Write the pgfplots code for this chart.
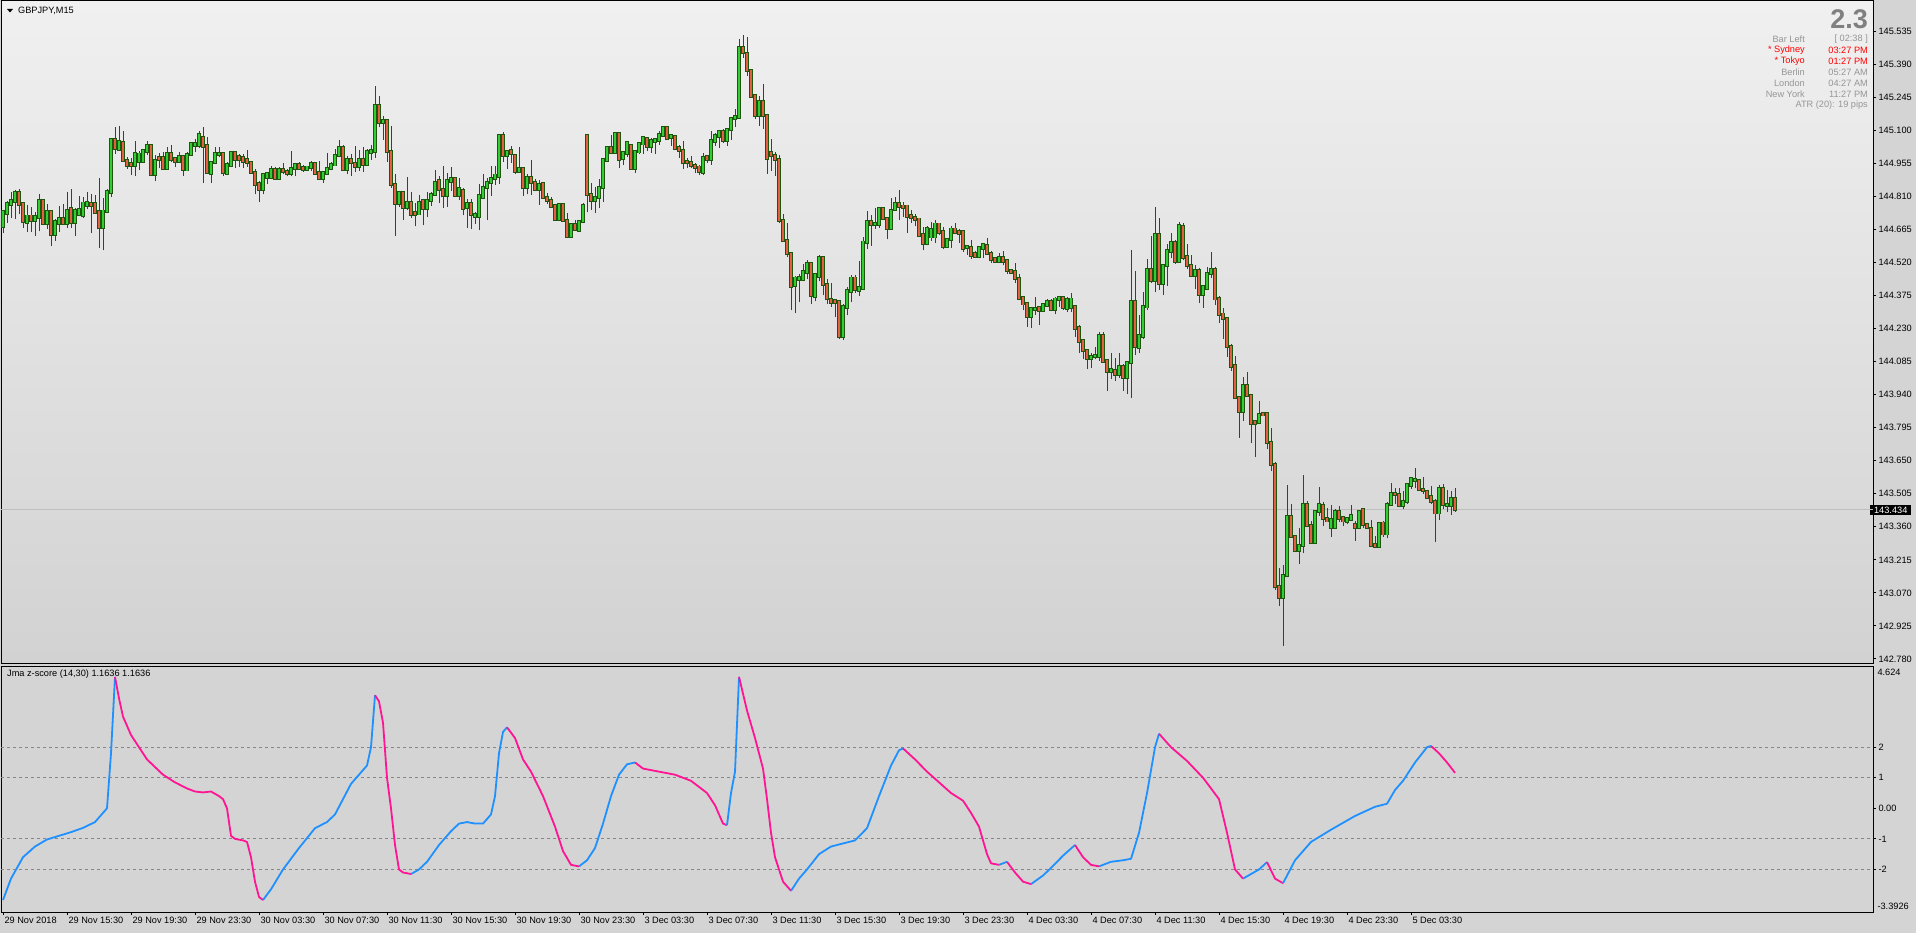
\documentclass[border=0pt]{standalone}
\usepackage{fontspec}
\setmainfont{Liberation Sans}
\usepackage{pgfplots}
\usepackage{pgfplotstable}
\pgfplotsset{compat=1.18}
\definecolor{outerbg}{RGB}{212,212,212}
\definecolor{bgtop}{RGB}{240,240,240}
\definecolor{bgbot}{RGB}{210,210,210}
\definecolor{wickc}{RGB}{30,86,16}
\definecolor{upc}{RGB}{50,205,50}
\definecolor{dnc}{RGB}{228,96,66}
\definecolor{zblue}{RGB}{30,144,255}
\definecolor{zpink}{RGB}{255,20,147}
\definecolor{gridc}{RGB}{135,135,135}
\definecolor{infog}{RGB}{150,150,150}
\definecolor{bigg}{RGB}{128,128,128}
\definecolor{infor}{RGB}{255,0,0}
\newcommand{\fs}{\fontsize{9.2bp}{11bp}\selectfont}
\pgfplotstableread{
i o h l c
0 144.678 144.751 144.649 144.743
1 144.736 144.790 144.695 144.776
2 144.776 144.827 144.714 144.790
3 144.787 144.838 144.710 144.828
4 144.828 144.841 144.732 144.776
5 144.776 144.787 144.673 144.700
6 144.697 144.773 144.653 144.723
7 144.723 144.764 144.652 144.704
8 144.705 144.743 144.638 144.720
9 144.719 144.821 144.656 144.789
10 144.789 144.795 144.688 144.692
11 144.691 144.777 144.667 144.742
12 144.742 144.751 144.594 144.644
13 144.644 144.711 144.616 144.698
14 144.691 144.768 144.653 144.714
15 144.714 144.777 144.685 144.691
16 144.692 144.831 144.670 144.749
17 144.754 144.843 144.670 144.697
18 144.697 144.758 144.634 144.746
19 144.730 144.813 144.722 144.751
20 144.727 144.806 144.714 144.780
21 144.771 144.830 144.754 144.781
22 144.777 144.821 144.647 144.771
23 144.777 144.816 144.735 144.739
24 144.742 144.891 144.583 144.675
25 144.675 144.802 144.573 144.745
26 144.745 144.843 144.743 144.830
27 144.828 145.060 144.805 145.060
28 145.060 145.116 144.997 145.021
29 145.016 145.119 145.016 145.049
30 145.047 145.098 144.965 144.968
31 144.968 144.984 144.930 144.946
32 144.952 144.980 144.905 144.945
33 144.946 145.053 144.901 144.996
34 144.962 145.008 144.927 144.995
35 144.965 145.018 144.957 145.011
36 145.008 145.053 144.992 145.031
37 145.031 145.035 144.904 144.907
38 144.907 144.990 144.875 144.968
39 144.978 145.000 144.936 144.971
40 144.978 145.006 144.927 144.932
41 144.932 145.027 144.926 144.999
42 144.999 145.035 144.959 144.970
43 144.974 144.981 144.939 144.962
44 144.964 145.006 144.957 144.986
45 144.986 144.992 144.901 144.929
46 144.926 145.003 144.923 144.995
47 144.995 145.050 144.989 145.043
48 145.033 145.060 145.005 145.043
49 145.033 145.097 145.021 145.082
50 145.066 145.114 144.870 145.030
51 145.034 145.069 144.911 144.914
52 144.911 144.967 144.870 144.959
53 144.959 145.027 144.951 144.996
54 144.992 145.025 144.981 144.999
55 144.999 145.002 144.897 144.914
56 144.910 144.959 144.910 144.948
57 144.945 145.008 144.939 145.003
58 145.003 145.006 144.936 144.973
59 144.983 144.997 144.938 144.973
60 144.981 144.996 144.936 144.965
61 144.970 145.013 144.939 144.958
62 144.956 144.959 144.908 144.914
63 144.916 144.929 144.818 144.863
64 144.865 144.876 144.787 144.841
65 144.841 144.910 144.819 144.907
66 144.894 144.913 144.863 144.908
67 144.894 144.945 144.886 144.929
68 144.929 144.938 144.888 144.889
69 144.888 144.938 144.888 144.929
70 144.929 144.957 144.910 144.920
71 144.920 144.930 144.897 144.910
72 144.910 145.009 144.897 144.933
73 144.932 144.958 144.897 144.951
74 144.951 144.962 144.927 144.932
75 144.935 144.948 144.916 144.927
76 144.927 144.943 144.927 144.938
77 144.938 144.964 144.922 144.955
78 144.952 144.958 144.903 144.910
79 144.913 144.964 144.886 144.889
80 144.889 144.920 144.869 144.913
81 144.910 144.999 144.910 144.933
82 144.932 144.959 144.924 144.948
83 144.948 145.018 144.948 144.990
84 144.990 145.056 144.983 145.022
85 145.025 145.034 144.926 144.927
86 144.927 144.989 144.908 144.973
87 144.973 144.996 144.897 144.959
88 144.955 145.031 144.916 144.941
89 144.941 145.015 144.923 144.973
90 144.973 145.027 144.916 144.951
91 144.951 145.018 144.948 145.005
92 145.003 145.035 144.971 145.009
93 145.006 145.294 144.980 145.206
94 145.206 145.250 145.116 145.133
95 145.133 145.162 145.057 145.143
96 145.143 145.145 144.962 145.008
97 145.008 145.119 144.846 144.863
98 144.863 144.908 144.638 144.780
99 144.780 144.828 144.765 144.828
100 144.828 144.828 144.707 144.762
101 144.762 144.894 144.748 144.784
102 144.784 144.828 144.717 144.730
103 144.737 144.780 144.678 144.730
104 144.733 144.816 144.732 144.784
105 144.789 144.790 144.682 144.757
106 144.757 144.828 144.719 144.793
107 144.792 144.831 144.768 144.819
108 144.818 144.926 144.813 144.872
109 144.878 144.897 144.780 144.841
110 144.841 144.943 144.757 144.815
111 144.813 144.911 144.765 144.878
112 144.875 144.938 144.834 144.886
113 144.886 144.889 144.806 144.813
114 144.813 144.889 144.796 144.843
115 144.837 144.846 144.726 144.758
116 144.761 144.797 144.671 144.777
117 144.777 144.799 144.666 144.730
118 144.721 144.740 144.688 144.729
119 144.723 144.865 144.660 144.812
120 144.806 144.908 144.803 144.850
121 144.849 144.889 144.707 144.872
122 144.870 144.943 144.812 144.889
123 144.888 144.942 144.860 144.903
124 144.897 145.075 144.863 145.075
125 145.075 145.091 144.962 144.990
126 144.990 145.009 144.929 145.008
127 145.009 145.031 144.958 144.997
128 144.990 144.992 144.908 144.920
129 144.919 145.027 144.914 144.933
130 144.933 144.938 144.813 144.849
131 144.849 144.908 144.819 144.891
132 144.891 144.970 144.816 144.870
133 144.872 144.884 144.834 144.841
134 144.841 144.881 144.773 144.863
135 144.865 144.872 144.802 144.806
136 144.806 144.824 144.777 144.793
137 144.793 144.805 144.761 144.765
138 144.768 144.768 144.710 144.710
139 144.708 144.776 144.708 144.773
140 144.773 144.776 144.700 144.705
141 144.705 144.736 144.627 144.634
142 144.634 144.689 144.632 144.684
143 144.685 144.704 144.659 144.666
144 144.662 144.707 144.660 144.701
145 144.701 144.781 144.691 144.771
146 145.078 145.085 144.739 144.819
147 144.819 144.868 144.751 144.792
148 144.792 144.850 144.735 144.803
149 144.806 144.886 144.758 144.850
150 144.850 144.977 144.787 144.970
151 144.967 145.027 144.959 145.022
152 145.022 145.081 144.999 145.002
153 145.002 145.084 144.999 145.084
154 145.084 145.084 144.936 144.974
155 144.976 145.006 144.948 145.000
156 145.000 145.050 144.981 145.046
157 145.034 145.034 144.930 144.932
158 144.932 145.005 144.914 145.005
159 145.005 145.050 144.997 145.040
160 145.040 145.072 144.997 145.069
161 145.065 145.069 145.008 145.030
162 145.030 145.065 144.999 145.053
163 145.050 145.065 144.997 145.057
164 145.056 145.097 145.036 145.079
165 145.078 145.119 145.076 145.110
166 145.110 145.119 145.062 145.065
167 145.069 145.084 145.032 145.075
168 145.073 145.073 145.018 145.021
169 145.022 145.036 144.977 145.012
170 145.012 145.053 144.929 144.959
171 144.962 144.980 144.933 144.959
172 144.959 144.987 144.933 144.946
173 144.946 144.958 144.911 144.938
174 144.938 144.948 144.905 144.920
175 144.914 145.000 144.903 144.981
176 144.983 144.990 144.957 144.971
177 144.973 145.097 144.948 145.053
178 145.053 145.087 145.032 145.075
179 145.073 145.103 145.024 145.095
180 145.095 145.105 145.043 145.057
181 145.056 145.108 145.032 145.104
182 145.104 145.157 145.059 145.152
183 145.151 145.192 145.114 145.158
184 145.157 145.500 145.157 145.463
185 145.463 145.517 145.418 145.440
186 145.437 145.507 145.338 145.361
187 145.362 145.362 145.247 145.249
188 145.250 145.259 145.151 145.164
189 145.164 145.250 145.120 145.227
190 145.227 145.301 145.107 145.165
191 145.165 145.167 144.910 144.977
192 145.003 145.062 144.922 144.990
193 144.990 145.005 144.901 144.973
194 144.973 144.992 144.691 144.704
195 144.704 144.733 144.612 144.616
196 144.616 144.694 144.542 144.559
197 144.559 144.561 144.310 144.415
198 144.419 144.462 144.297 144.451
199 144.446 144.467 144.345 144.453
200 144.446 144.514 144.437 144.478
201 144.478 144.532 144.448 144.513
202 144.513 144.516 144.336 144.375
203 144.371 144.473 144.349 144.466
204 144.459 144.554 144.437 144.543
205 144.543 144.549 144.376 144.424
206 144.424 144.448 144.338 144.362
207 144.355 144.431 144.326 144.345
208 144.351 144.357 144.279 144.345
209 144.346 144.351 144.183 144.196
210 144.196 144.337 144.180 144.324
211 144.323 144.413 144.288 144.395
212 144.393 144.463 144.345 144.451
213 144.451 144.463 144.386 144.403
214 144.397 144.527 144.371 144.408
215 144.406 144.632 144.397 144.609
216 144.609 144.746 144.581 144.697
217 144.697 144.727 144.592 144.688
218 144.685 144.759 144.668 144.689
219 144.688 144.758 144.673 144.755
220 144.755 144.764 144.710 144.713
221 144.714 144.714 144.621 144.668
222 144.671 144.803 144.669 144.749
223 144.754 144.805 144.749 144.780
224 144.780 144.838 144.708 144.767
225 144.767 144.786 144.719 144.761
226 144.767 144.768 144.651 144.721
227 144.724 144.751 144.694 144.717
228 144.717 144.732 144.678 144.710
229 144.710 144.717 144.631 144.638
230 144.640 144.676 144.573 144.603
231 144.603 144.681 144.595 144.668
232 144.632 144.698 144.616 144.665
233 144.632 144.707 144.606 144.688
234 144.688 144.688 144.641 144.651
235 144.653 144.676 144.577 144.590
236 144.590 144.622 144.587 144.622
237 144.622 144.681 144.583 144.666
238 144.666 144.692 144.644 144.653
239 144.654 144.666 144.605 144.646
240 144.653 144.654 144.567 144.583
241 144.584 144.597 144.554 144.590
242 144.584 144.618 144.535 144.552
243 144.557 144.571 144.542 144.548
244 144.546 144.590 144.538 144.584
245 144.583 144.600 144.539 144.596
246 144.593 144.627 144.554 144.559
247 144.559 144.570 144.519 144.535
248 144.535 144.542 144.521 144.526
249 144.526 144.561 144.519 144.540
250 144.540 144.568 144.507 144.526
251 144.526 144.529 144.470 144.485
252 144.486 144.491 144.467 144.476
253 144.478 144.516 144.428 144.448
254 144.448 144.470 144.355 144.364
255 144.364 144.374 144.311 144.338
256 144.338 144.346 144.238 144.282
257 144.282 144.320 144.232 144.316
258 144.313 144.367 144.289 144.319
259 144.320 144.329 144.244 144.311
260 144.311 144.339 144.310 144.333
261 144.333 144.359 144.327 144.346
262 144.346 144.358 144.308 144.313
263 144.313 144.370 144.292 144.359
264 144.359 144.373 144.326 144.364
265 144.364 144.371 144.310 144.323
266 144.319 144.367 144.304 144.357
267 144.323 144.384 144.301 144.359
268 144.324 144.326 144.193 144.232
269 144.232 144.244 144.123 144.174
270 144.175 144.177 144.095 144.135
271 144.132 144.138 144.053 144.097
272 144.097 144.121 144.056 144.108
273 144.107 144.149 144.094 144.111
274 144.107 144.216 144.089 144.199
275 144.199 144.216 144.083 144.086
276 144.087 144.087 143.956 144.040
277 144.040 144.121 144.007 144.049
278 144.045 144.102 144.000 144.027
279 144.027 144.121 144.013 144.062
280 144.062 144.074 143.956 144.017
281 144.017 144.087 143.943 144.081
282 144.080 144.575 143.925 144.347
283 144.347 144.484 144.113 144.150
284 144.146 144.290 144.124 144.198
285 144.197 144.392 144.186 144.325
286 144.325 144.535 144.312 144.487
287 144.487 144.637 144.430 144.443
288 144.443 144.765 144.389 144.640
289 144.640 144.716 144.401 144.430
290 144.430 144.515 144.376 144.505
291 144.505 144.602 144.416 144.570
292 144.570 144.649 144.538 144.607
293 144.607 144.617 144.515 144.525
294 144.525 144.699 144.521 144.680
295 144.675 144.694 144.529 144.543
296 144.544 144.602 144.491 144.505
297 144.505 144.553 144.456 144.465
298 144.465 144.509 144.404 144.483
299 144.483 144.494 144.341 144.378
300 144.378 144.418 144.321 144.413
301 144.407 144.499 144.401 144.470
302 144.470 144.567 144.452 144.487
303 144.487 144.500 144.332 144.360
304 144.360 144.372 144.255 144.293
305 144.293 144.318 144.183 144.273
306 144.273 144.277 144.105 144.150
307 144.150 144.162 144.043 144.065
308 144.067 144.110 143.927 143.927
309 143.927 143.927 143.750 143.865
310 143.865 144.018 143.823 143.978
311 143.978 144.037 143.932 143.935
312 143.935 143.935 143.727 143.813
313 143.821 143.824 143.667 143.813
314 143.817 143.910 143.817 143.852
315 143.856 143.861 143.846 143.851
316 143.856 143.856 143.700 143.729
317 143.729 143.794 143.605 143.633
318 143.633 143.645 143.083 143.099
319 143.099 143.179 143.014 143.050
320 143.049 143.192 142.839 143.145
321 143.145 143.543 143.138 143.405
322 143.405 143.459 143.312 143.316
323 143.316 143.321 143.248 143.255
324 143.255 143.356 143.198 143.278
325 143.278 143.586 143.245 143.458
326 143.458 143.472 143.365 143.365
327 143.366 143.385 143.288 143.291
328 143.291 143.432 143.291 143.427
329 143.426 143.534 143.408 143.458
330 143.452 143.470 143.365 143.397
331 143.397 143.442 143.379 143.386
332 143.357 143.455 143.316 143.392
333 143.357 143.437 143.350 143.427
334 143.427 143.450 143.379 143.399
335 143.401 143.408 143.365 143.386
336 143.383 143.401 143.372 143.394
337 143.391 143.455 143.386 143.410
338 143.371 143.386 143.299 143.356
339 143.356 143.433 143.353 143.427
340 143.434 143.437 143.353 143.371
341 143.371 143.372 143.353 143.356
342 143.351 143.391 143.277 143.277
343 143.281 143.321 143.274 143.275
344 143.275 143.383 143.269 143.375
345 143.376 143.386 143.316 143.329
346 143.329 143.467 143.309 143.458
347 143.458 143.554 143.452 143.506
348 143.506 143.529 143.459 143.502
349 143.502 143.529 143.449 143.453
350 143.452 143.515 143.437 143.471
351 143.471 143.548 143.459 143.543
352 143.541 143.580 143.526 143.572
353 143.563 143.616 143.529 143.567
354 143.563 143.566 143.519 143.524
355 143.525 143.578 143.506 143.518
356 143.515 143.522 143.486 143.489
357 143.493 143.537 143.462 143.471
358 143.472 143.481 143.294 143.421
359 143.421 143.545 143.389 143.528
360 143.528 143.547 143.436 143.458
361 143.456 143.521 143.423 143.459
362 143.456 143.515 143.411 143.483
363 143.484 143.532 143.427 143.436
}\candles
\pgfplotsset{
  zb/.style={zblue, line width=1.8bp, line join=round, forget plot, mark=none},
  zp/.style={zpink, line width=1.8bp, line join=round, forget plot, mark=none},
  nomark/.style={only marks, mark=*, mark size=0.1bp, mark options={opacity=0, draw opacity=0, fill opacity=0}, forget plot},
}
\begin{document}
\begin{tikzpicture}
\useasboundingbox (0,0) rectangle (1916bp,933bp);
\fill[outerbg] (0,0) rectangle (1916bp,933bp);
\begin{axis}[
  at={(1bp,269bp)}, anchor=south west, scale only axis,
  width=1872bp, height=663bp,
  xmin=-0.5, xmax=467.5, ymin=142.758, ymax=145.667,
  axis background/.style={top color=bgtop, bottom color=bgbot},
  axis line style={black, line width=1bp},
  xtick=\empty,
  ytick={142.78,142.925,143.07,143.215,143.36,143.505,143.65,143.795,143.94,144.085,144.23,144.375,144.52,144.665,144.81,144.955,145.1,145.245,145.39,145.535},
  yticklabels={142.780,142.925,143.070,143.215,143.360,143.505,143.650,143.795,143.940,144.085,144.230,144.375,144.520,144.665,144.810,144.955,145.100,145.245,145.390,145.535},
  ytick pos=right, yticklabel pos=right, tick align=outside,
  major tick length=3bp, tick style={black, line width=1bp},
  yticklabel style={font=\fs, xshift=-1bp},
  extra y ticks={143.434}, extra y tick labels={143.434},
  extra y tick style={major tick length=0bp, yticklabel style={fill=black, text=white, inner ysep=1.5bp, minimum width=41bp, xshift=-2bp}},
]
\addplot[color={rgb,255:red,190;green,190;blue,190}, line width=1bp, forget plot] coordinates {(-0.5,143.434) (467.5,143.434)};
% wicks
\addplot[wickc, nomark, error bars/.cd, y dir=plus, y explicit, error mark=none, error bar style={line width=1bp, wickc}]
  table[x=i, y=l, y error plus expr={\thisrow{h}-\thisrow{l}}] {\candles};
% body outlines
\addplot[wickc, nomark, error bars/.cd, y dir=plus, y explicit, error mark=none, error bar style={line width=3.2bp, line cap=rect, wickc}]
  table[x=i, y expr={min(\thisrow{o},\thisrow{c})}, y error plus expr={abs(\thisrow{c}-\thisrow{o})}] {\candles};
% up bodies
\addplot[upc, nomark, unbounded coords=discard, error bars/.cd, y dir=plus, y explicit, error mark=none, error bar style={line width=1.3bp, line cap=rect, upc}]
  table[x=i, y expr={\thisrow{c}>=\thisrow{o} ? \thisrow{o} : nan}, y error plus expr={abs(\thisrow{c}-\thisrow{o})}] {\candles};
% down bodies
\addplot[dnc, nomark, unbounded coords=discard, error bars/.cd, y dir=plus, y explicit, error mark=none, error bar style={line width=1.3bp, line cap=rect, dnc}]
  table[x=i, y expr={\thisrow{c}<\thisrow{o} ? \thisrow{c} : nan}, y error plus expr={abs(\thisrow{c}-\thisrow{o})}] {\candles};
\end{axis}
\begin{axis}[
  at={(1bp,21bp)}, anchor=south west, scale only axis,
  width=1872bp, height=245bp,
  xmin=-0.5, xmax=467.5, ymin=-3.3926, ymax=4.624,
  axis background/.style={fill=outerbg},
  axis line style={black, line width=1bp},
  xtick={0,16,...,352},
  xticklabels={29 Nov 2018,29 Nov 15:30,29 Nov 19:30,29 Nov 23:30,30 Nov 03:30,30 Nov 07:30,30 Nov 11:30,30 Nov 15:30,30 Nov 19:30,30 Nov 23:30,3 Dec 03:30,3 Dec 07:30,3 Dec 11:30,3 Dec 15:30,3 Dec 19:30,3 Dec 23:30,4 Dec 03:30,4 Dec 07:30,4 Dec 11:30,4 Dec 15:30,4 Dec 19:30,4 Dec 23:30,5 Dec 03:30},
  xtick pos=bottom,
  xticklabel style={font=\fs, anchor=north west, xshift=-2bp, yshift=1bp},
  ytick={-2,-1,0,1,2}, yticklabels={-2,-1,0.00,1,2},
  ytick pos=right, yticklabel pos=right, tick align=outside,
  major tick length=3bp, tick style={black, line width=1bp},
  yticklabel style={font=\fs, xshift=-1bp},
  extra y ticks={4.46,-3.21}, extra y tick labels={4.624,-3.3926},
  extra y tick style={major tick length=0bp, yticklabel style={xshift=2bp}},
]
\addplot[gridc, line width=1bp, dash pattern=on 3bp off 3bp, forget plot] coordinates {(-0.5,2) (467.5,2)};
\addplot[gridc, line width=1bp, dash pattern=on 3bp off 3bp, forget plot] coordinates {(-0.5,1) (467.5,1)};
\addplot[gridc, line width=1bp, dash pattern=on 3bp off 3bp, forget plot] coordinates {(-0.5,-1) (467.5,-1)};
\addplot[gridc, line width=1bp, dash pattern=on 3bp off 3bp, forget plot] coordinates {(-0.5,-2) (467.5,-2)};
\addplot[zb] coordinates {(0,-3.0)(2,-2.3)(5,-1.6)(8,-1.25)(11,-1.02)(14,-0.9)(17,-0.78)(20,-0.64)(23,-0.45)(26,0.0)(27,1.8)(28,4.3)};
\addplot[zp] coordinates {(28,4.3)(29,3.6)(30,3.0)(32,2.4)(34,2.0)(36,1.6)(38,1.35)(40,1.1)(43,0.85)(46,0.65)(48,0.55)(50,0.52)(52,0.55)(54,0.4)(55,0.3)(56,0.0)(57,-0.9)(58,-1.0)(60,-1.05)(61,-1.1)(62,-1.6)(63,-2.4)(64,-2.9)(65,-3.0)};
\addplot[zb] coordinates {(65,-3.0)(67,-2.65)(70,-2.0)(74,-1.3)(78,-0.65)(81,-0.45)(83,-0.2)(85,0.3)(87,0.8)(89,1.1)(91,1.4)(92,2.0)(93,3.7)};
\addplot[zp] coordinates {(93,3.7)(94,3.5)(95,2.8)(96,1.0)(97,0.0)(98,-1.2)(99,-2.0)(100,-2.1)(102,-2.15)};
\addplot[zb] coordinates {(102,-2.15)(104,-2.0)(106,-1.75)(109,-1.2)(112,-0.75)(114,-0.5)(116,-0.45)(118,-0.5)(120,-0.5)(122,-0.2)(123,0.4)(124,1.8)(125,2.5)(126,2.65)};
\addplot[zp] coordinates {(126,2.65)(128,2.3)(130,1.6)(132,1.2)(135,0.4)(138,-0.6)(140,-1.4)(142,-1.85)(144,-1.9)};
\addplot[zb] coordinates {(144,-1.9)(146,-1.7)(148,-1.3)(150,-0.5)(152,0.4)(154,1.1)(156,1.44)(158,1.5)};
\addplot[zp] coordinates {(158,1.5)(160,1.3)(164,1.2)(168,1.1)(172,0.9)(176,0.5)(178,0.1)(180,-0.5)(181,-0.55)};
\addplot[zb] coordinates {(181,-0.55)(182,0.5)(183,1.2)(184,4.3)};
\addplot[zp] coordinates {(184,4.3)(186,3.2)(188,2.3)(190,1.3)(191,0.3)(192,-0.8)(193,-1.6)(195,-2.4)(197,-2.7)};
\addplot[zb] coordinates {(197,-2.7)(199,-2.3)(201,-2.0)(204,-1.5)(207,-1.25)(210,-1.15)(213,-1.05)(216,-0.65)(219,0.4)(222,1.4)(224,1.9)(225,1.96)};
\addplot[zp] coordinates {(225,1.96)(228,1.6)(231,1.2)(234,0.85)(237,0.5)(240,0.25)(242,-0.15)(244,-0.6)(246,-1.5)(247,-1.8)(249,-1.85)};
\addplot[zb] coordinates {(249,-1.85)(251,-1.75)};
\addplot[zp] coordinates {(251,-1.75)(253,-2.1)(255,-2.4)(257,-2.48)};
\addplot[zb] coordinates {(257,-2.48)(260,-2.2)(262,-1.95)(265,-1.55)(268,-1.2)};
\addplot[zp] coordinates {(268,-1.2)(270,-1.6)(272,-1.85)(274,-1.9)};
\addplot[zb] coordinates {(274,-1.9)(277,-1.75)(280,-1.7)(282,-1.65)(284,-0.8)(286,0.5)(288,2.0)(289,2.44)};
\addplot[zp] coordinates {(289,2.44)(292,2.0)(296,1.55)(300,1.0)(304,0.3)(306,-0.8)(308,-2.0)(310,-2.3)};
\addplot[zb] coordinates {(310,-2.3)(314,-2.0)(316,-1.76)};
\addplot[zp] coordinates {(316,-1.76)(318,-2.3)(320,-2.45)};
\addplot[zb] coordinates {(320,-2.45)(323,-1.7)(327,-1.1)(332,-0.7)(338,-0.25)(343,0.05)(346,0.15)(348,0.6)(350,0.9)(353,1.5)(356,2.0)(357,2.04)};
\addplot[zp] coordinates {(357,2.04)(359,1.8)(361,1.5)(363,1.16)};
\end{axis}
% panel titles
\fill[black] (7bp,924bp) -- (13bp,924bp) -- (10bp,920.5bp) -- cycle;
\node[anchor=west, inner sep=0pt, font=\fs] at (18bp,922bp) {GBPJPY,M15};
\node[anchor=west, inner sep=0pt, font=\fs] at (7bp,259bp) {Jma z-score (14,30) 1.1636 1.1636};
% info block
\node[anchor=east, inner sep=0pt, text=bigg, font=\fontsize{27bp}{30bp}\selectfont\bfseries] at (1868bp,914bp) {2.3};
\begin{scope}[every node/.style={inner sep=0pt, font=\fs}]
\node[anchor=east, text=infog] at (1805bp,894bp) {Bar Left};
\node[anchor=east, text=infog] at (1868bp,894bp) {[ 02:38 ]};
\node[anchor=east, text=infor] at (1805bp,883bp) {* Sydney};
\node[anchor=east, text=infor] at (1868bp,883bp) {03:27 PM};
\node[anchor=east, text=infor] at (1805bp,872bp) {* Tokyo};
\node[anchor=east, text=infor] at (1868bp,872bp) {01:27 PM};
\node[anchor=east, text=infog] at (1805bp,861bp) {Berlin};
\node[anchor=east, text=infog] at (1868bp,861bp) {05:27 AM};
\node[anchor=east, text=infog] at (1805bp,850bp) {London};
\node[anchor=east, text=infog] at (1868bp,850bp) {04:27 AM};
\node[anchor=east, text=infog] at (1805bp,839bp) {New York};
\node[anchor=east, text=infog] at (1868bp,839bp) {11:27 PM};
\node[anchor=east, text=infog] at (1868bp,828bp) {ATR (20): 19 pips};
\end{scope}
\end{tikzpicture}
\end{document}
